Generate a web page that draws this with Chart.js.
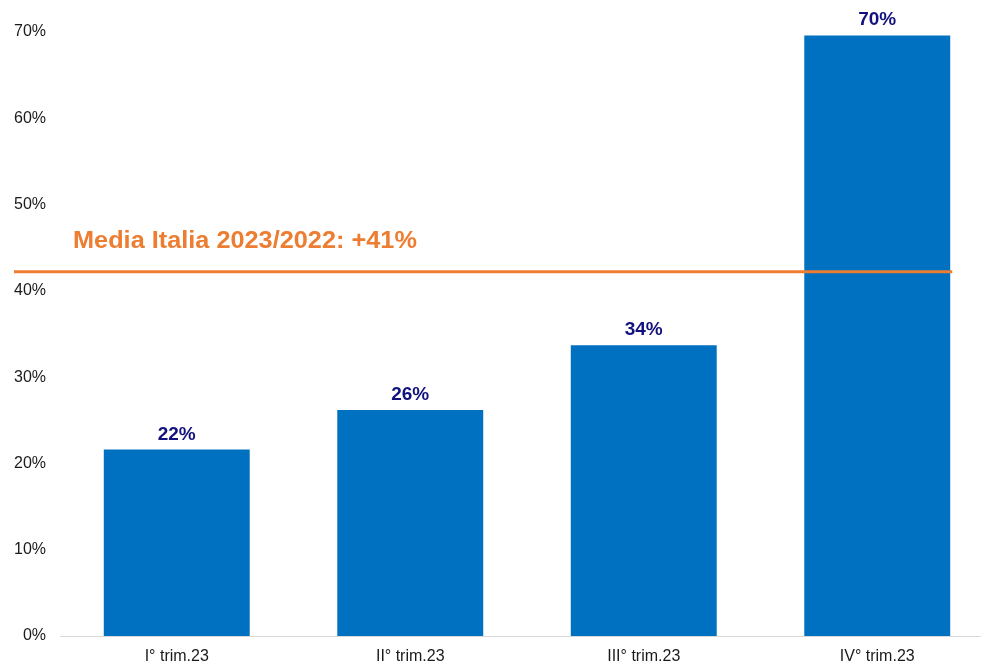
<!DOCTYPE html>
<html>
<head>
<meta charset="utf-8">
<script src="https://cdn.jsdelivr.net/npm/chart.js@4"></script>
<style>
  html, body { margin: 0; padding: 0; background: #ffffff; overflow: hidden; }
  #wrap { width: 994px; height: 663px; position: relative; }
</style>
</head>
<body>
<div id="wrap"><canvas id="c"></canvas></div>
<script>
const categories = ["I° trim.23", "II° trim.23", "III° trim.23", "IV° trim.23"];
const values = [21.6, 26.2, 33.7, 69.6];
const valueLabels = ["22%", "26%", "34%", "70%"];
const yTicks = [0, 10, 20, 30, 40, 50, 60, 70];
const averageValue = 42.2;
const averageLabel = "Media Italia 2023/2022: +41%";

const FONT = "'Liberation Sans', Arial, Helvetica, sans-serif";

const overlay = {
  id: 'overlay',
  afterDatasetsDraw(chart) {
    const ctx = chart.ctx;
    const ys = chart.scales.y;
    const meta = chart.getDatasetMeta(0);
    // value labels
    ctx.save();
    ctx.font = "bold 19px " + FONT;
    ctx.fillStyle = "#12127f";
    ctx.textAlign = "center";
    ctx.textBaseline = "alphabetic";
    meta.data.forEach((bar, i) => {
      ctx.fillText(valueLabels[i], bar.x, bar.y - 10);
    });
    // average line
    const yy = ys.getPixelForValue(averageValue);
    const lastBar = meta.data[meta.data.length - 1];
    ctx.strokeStyle = "#ed7d31";
    ctx.lineWidth = 3;
    ctx.beginPath();
    ctx.moveTo(chart.chartArea.left - 46, yy);
    ctx.lineTo(lastBar.x + lastBar.width / 2 + 2, yy);
    ctx.stroke();
    // average label (slightly wide lettering as in the original)
    ctx.font = "bold 23px " + FONT;
    ctx.fillStyle = "#ed7d31";
    ctx.textAlign = "left";
    ctx.translate(chart.chartArea.left + 13, yy - 24);
    ctx.scale(1.1, 1);
    ctx.fillText(averageLabel, 0, 0);
    ctx.restore();
  }
};

new Chart(document.getElementById('c'), {
  type: 'bar',
  data: {
    labels: categories,
    datasets: [{
      data: values,
      backgroundColor: "#0070c0",
      borderWidth: 0,
      barPercentage: 0.625,
      categoryPercentage: 1.0
    }]
  },
  options: {
    responsive: true,
    maintainAspectRatio: false,
    animation: false,
    layout: { padding: { top: 32, right: 0, bottom: 0, left: 0 } },
    plugins: { legend: { display: false }, tooltip: { enabled: false } },
    scales: {
      x: {
        grid: { display: false, drawTicks: false },
        border: { display: true, color: "#d9d9d9", width: 1 },
        ticks: { color: "#1a1a1a", font: { family: FONT, size: 16 }, padding: 11 },
        afterFit(scale) { scale.height = 27; }
      },
      y: {
        min: 0,
        max: 70,
        grid: { display: false, drawTicks: false },
        border: { display: false },
        afterBuildTicks(scale) { scale.ticks = yTicks.map(v => ({ value: v })); },
        ticks: {
          color: "#1a1a1a",
          font: { family: FONT, size: 16 },
          padding: 14,
          callback: v => v + "%"
        },
        afterFit(scale) { scale.width = 60; }
      }
    }
  },
  plugins: [overlay]
});
</script>
</body>
</html>
